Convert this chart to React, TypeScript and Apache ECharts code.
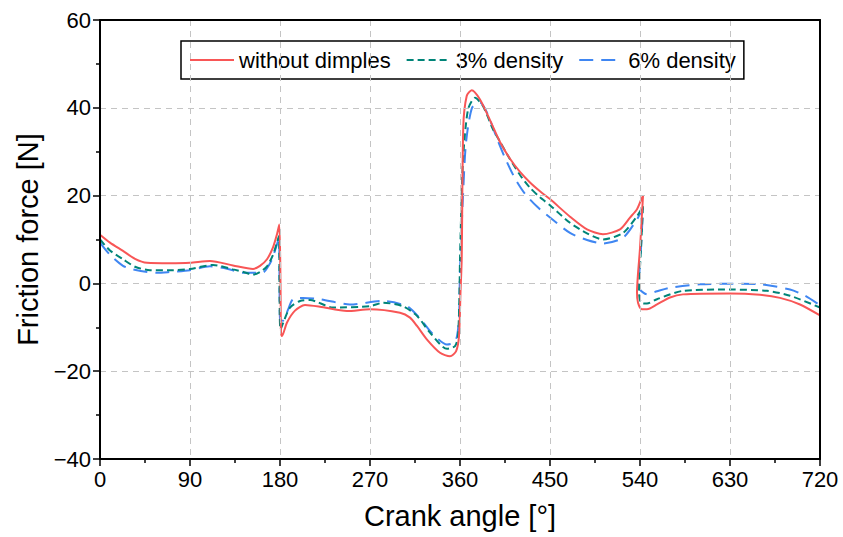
import React, { useEffect, useRef } from "react";
import * as echarts from "echarts";

const seriesNames = ["without dimples", "3% density", "6% density"];
const xTicks = [0, 90, 180, 270, 360, 450, 540, 630, 720];
const yTicks = [-40, -20, 0, 20, 40, 60];

// without dimples
const redAngle = [0, 10, 23, 35, 47, 70, 90, 110, 133, 153, 160, 167, 173, 177, 179.3, 180.5, 181, 182, 187, 195, 205, 220, 247, 270, 300, 310, 317, 327, 340, 350, 356, 359, 360.5, 361.7, 363.3, 366.7, 371.7, 380, 390, 400, 410, 420, 430, 440, 450, 470, 487, 503, 520, 530, 537, 541, 543, 540, 537, 538, 541.7, 547, 557, 570, 583, 630, 660, 680, 700, 720];
const redForce = [11.1, 9.3, 7.4, 5.6, 4.7, 4.6, 4.7, 5.1, 4.1, 3.3, 4.0, 5.5, 8.2, 11.2, 13.4, 0, -11, -12, -8.9, -6.2, -4.9, -5.3, -6.3, -5.9, -6.7, -7.8, -9.7, -12.8, -15.8, -16.6, -15.5, -12, -2, 5.5, 35.8, 42.7, 44.0, 41.9, 37.2, 32.2, 28.4, 25.4, 23.0, 21.0, 19.2, 15.2, 12.3, 11.2, 12.3, 15.0, 16.9, 19.0, 19.9, 8, -2.1, -4.4, -5.9, -5.9, -4.8, -3.2, -2.5, -2.3, -2.6, -3.3, -4.8, -7.3];

// 3% density
const tealAngle = [0, 10, 23, 35, 50, 70, 90, 113, 133, 145, 153, 160, 167, 173, 177, 179, 179.5, 180.5, 184, 190, 200, 210, 233, 270, 283, 303, 317, 330, 347, 355, 358, 359.5, 360, 363, 368, 375, 383, 393, 400, 410, 420, 430, 440, 450, 470, 487, 503, 523, 537, 543, 541, 539, 541, 547, 557, 583, 630, 667, 690, 720];
const tealForce = [10.0, 7.5, 5.5, 3.8, 3.0, 3.0, 3.3, 4.2, 3.2, 2.5, 2.0, 2.6, 3.9, 6.5, 9.3, 10.8, 0, -10.5, -8.5, -5.5, -4.0, -3.8, -5.5, -5.2, -4.4, -5.2, -7.4, -11.2, -14.9, -14.3, -12, -2, 5.5, 28, 39.6, 42.3, 40.4, 35.1, 32.3, 28.3, 24.7, 21.8, 19.6, 17.8, 13.8, 11.4, 10.0, 11.5, 15.3, 17.6, 8, -2, -4.4, -4.6, -3.6, -1.7, -1.4, -1.7, -2.8, -5.5];

// 6% density
const blueAngle = [0, 10, 23, 33, 57, 70, 90, 110, 128, 143, 163, 168, 172, 176, 179, 179.5, 180, 183, 188, 193, 203, 220, 250, 283, 307, 320, 333, 347, 354, 357, 359, 360, 363, 366, 372, 380, 387, 397, 405, 415, 425, 437, 450, 470, 487, 503, 523, 537, 543, 541, 539, 540, 547, 557, 570, 600, 633, 660, 690, 705, 720];
const blueForce = [9.3, 6.5, 4.0, 3.2, 2.4, 2.6, 3.0, 3.9, 3.3, 2.4, 2.5, 3.8, 5.5, 8.2, 10.4, 0, -8.2, -8.5, -6, -3.6, -3.3, -3.6, -4.8, -4.0, -5.2, -8, -11.6, -13.9, -13.5, -12.0, -8, 3, 20, 32, 40, 41.2, 38.9, 33.0, 28.6, 23.9, 20.4, 17.5, 15.0, 11.5, 9.9, 9.1, 10.4, 14.6, 17.2, 8, 0, -1.4, -2.5, -1.8, -1.0, -0.2, -0.1, -0.2, -1.4, -2.8, -5.0];

const colors = ["#F85656", "#008478", "#3F86F2"];
const dashes: any[] = ["solid", [7, 4], [14, 8]];

const zip = (a: number[], b: number[]) => a.map((v, i) => [v, b[i]]);

export default function App() {
  const ref = useRef<HTMLDivElement>(null);
  useEffect(() => {
    if (!ref.current) return;
    const chart = echarts.init(ref.current, undefined, { renderer: "svg" });
    const font = "Arial, 'Liberation Sans', sans-serif";
    const datasets = [zip(redAngle, redForce), zip(tealAngle, tealForce), zip(blueAngle, blueForce)];
    const split = { show: true, lineStyle: { color: "#c4c4c4", type: [6, 5], width: 1 } };
    const frameAxis = {
      show: true,
      axisLine: { show: true, onZero: false, lineStyle: { color: "#000", width: 2 } },
      axisTick: { show: false },
      axisLabel: { show: false },
      splitLine: { show: false },
    };
    chart.setOption({
      animation: false,
      backgroundColor: "#fff",
      grid: { left: 100, right: 23, top: 20, bottom: 78 },
      legend: {
        left: 181,
        top: 41,
        data: seriesNames,
        orient: "horizontal",
        borderColor: "#000",
        borderWidth: 1.5,
        padding: [8, 8, 8, 8],
        itemGap: 15,
        itemWidth: 44,
        itemHeight: 14,
        itemStyle: { opacity: 0 },
        textStyle: { fontSize: 22, fontFamily: font, color: "#000" },
      },
      xAxis: [
        {
          type: "value",
          min: 0,
          max: 720,
          interval: 90,
          name: "Crank angle [°]",
          nameLocation: "middle",
          nameGap: 42,
          nameTextStyle: { fontSize: 29, fontFamily: font, color: "#000" },
          axisLine: { show: true, onZero: false, lineStyle: { color: "#000", width: 2 } },
          axisTick: { show: true, length: 7, lineStyle: { color: "#000", width: 1.5 } },
          minorTick: { show: true, splitNumber: 2, length: 4, lineStyle: { color: "#000", width: 1.5 } },
          axisLabel: { fontSize: 22, fontFamily: font, color: "#000", margin: 9, customValues: xTicks },
          splitLine: split,
          z: 5,
        },
        { ...frameAxis, type: "value", min: 0, max: 720, interval: 90, position: "top", z: 5 },
      ],
      yAxis: [
        {
          type: "value",
          min: -40,
          max: 60,
          interval: 20,
          name: "Friction force [N]",
          nameLocation: "middle",
          nameGap: 50,
          nameTextStyle: { fontSize: 29, fontFamily: font, color: "#000" },
          axisLine: { show: true, onZero: false, lineStyle: { color: "#000", width: 2 } },
          axisTick: { show: true, length: 7, lineStyle: { color: "#000", width: 1.5 } },
          minorTick: { show: true, splitNumber: 2, length: 4, lineStyle: { color: "#000", width: 1.5 } },
          axisLabel: {
            fontSize: 22,
            fontFamily: font,
            color: "#000",
            margin: 9,
            formatter: (v: number) => (yTicks.includes(v) ? String(v).replace("-", "\u2212") : ""),
          },
          splitLine: split,
          z: 5,
        },
        { ...frameAxis, type: "value", min: -40, max: 60, interval: 20, position: "right", z: 5 },
      ],
      series: seriesNames.map((name, i) => ({
        name,
        type: "line",
        data: datasets[i],
        showSymbol: false,
        symbol: "none",
        smooth: 0.25,
        color: colors[i],
        lineStyle: { color: colors[i], width: 2, type: dashes[i] },
        z: 3 - i,
      })),
    });
    return () => chart.dispose();
  }, []);
  return <div ref={ref} style={{ position: "absolute", left: 0, top: 0, width: 843, height: 537 }} />;
}
